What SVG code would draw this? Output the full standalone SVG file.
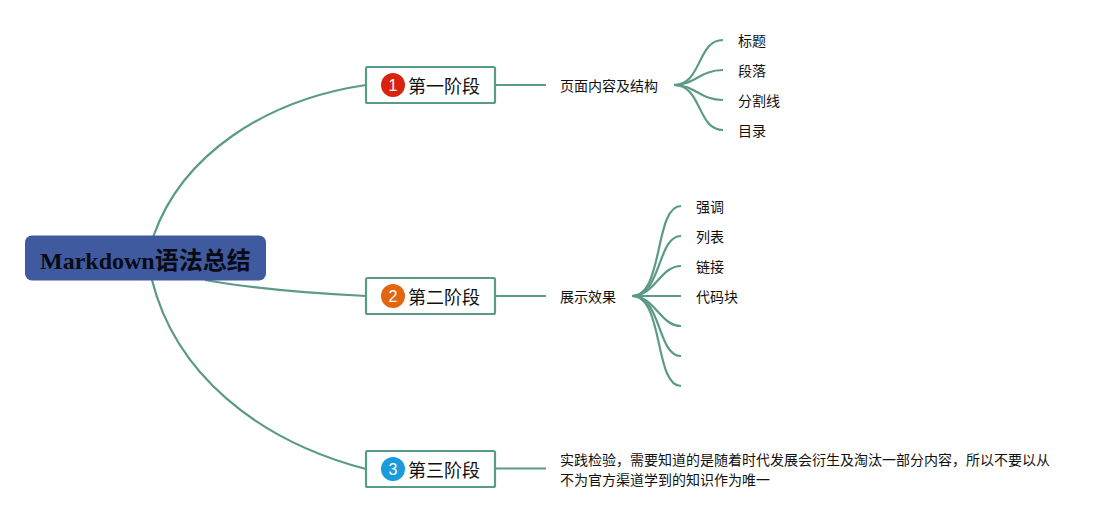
<svg xmlns="http://www.w3.org/2000/svg" width="1120" height="519" viewBox="0 0 1120 519">
<style>
.c{fill:none;stroke:#5a9a86;stroke-width:2.200}
.box{fill:#fff;stroke:#5a9a86;stroke-width:2.200}
.s{font-family:"Liberation Sans","Noto Sans CJK SC",sans-serif;font-size:18px;fill:#111}
.t{font-family:"Liberation Sans","Noto Sans CJK SC",sans-serif;font-size:14px;fill:#111}
.n{font-family:"Liberation Sans","Noto Sans CJK SC",sans-serif;font-size:16px;fill:#fff;text-anchor:middle}
.r{font-family:"Liberation Serif","Noto Sans CJK SC",serif;font-size:24px;font-weight:bold;fill:#0a0a14}
</style>
<rect width="1120" height="519" fill="#fff"/>
<g id="connectors">
<path class="c" d="M153.500 236C182 155 265 100 366 85"/>
<path class="c" d="M205 280C250 288 300 293 366 296"/>
<path class="c" d="M152 280C175 372 255 440 366 469"/>
<path class="c" d="M495 85H546"/>
<path class="c" d="M495 296H546"/>
<path class="c" d="M495 468.500H546"/>
<path class="c" d="M674 85C702 85 697 40 723 40"/>
<path class="c" d="M674 85C695 85 700 70 723 70"/>
<path class="c" d="M674 85C695 85 700 100 723 100"/>
<path class="c" d="M674 85C702 85 697 130 723 130"/>
<path class="c" d="M632 296C664 296 654 206 681 206"/>
<path class="c" d="M632 296C662 296 657 236 681 236"/>
<path class="c" d="M632 296C655 296 660 266 681 266"/>
<path class="c" d="M632 296H681"/>
<path class="c" d="M632 296C655 296 660 326 681 326"/>
<path class="c" d="M632 296C662 296 657 356 681 356"/>
<path class="c" d="M632 296C664 296 654 386 681 386"/>
</g>
<g id="root"><rect x="25" y="235.500" width="241" height="45" rx="7" fill="#3f5a9e"/><text class="r" x="40" y="269">Markdown语法总结</text></g>
<g id="stage1"><rect class="box" x="366" y="67" width="129" height="36" rx="1.500"/><circle cx="393" cy="85" r="12" fill="#d9230f"/><text class="n" x="393" y="91">1</text><text class="s" x="408" y="93">第一阶段</text></g>
<g id="stage2"><rect class="box" x="366" y="278" width="129" height="36" rx="1.500"/><circle cx="393" cy="296" r="12" fill="#e2650f"/><text class="n" x="393" y="302">2</text><text class="s" x="408" y="304">第二阶段</text></g>
<g id="stage3"><rect class="box" x="366" y="451" width="129" height="36" rx="1.500"/><circle cx="393" cy="469" r="12" fill="#1a9bdc"/><text class="n" x="393" y="475">3</text><text class="s" x="408" y="477">第三阶段</text></g>
<g id="topic1"><text class="t" x="560" y="91">页面内容及结构</text></g>
<g id="topic2"><text class="t" x="560" y="302">展示效果</text></g>
<g id="topic3"><text class="t" x="560" y="465">实践检验，需要知道的是随着时代发展会衍生及淘汰一部分内容，所以不要以从</text><text class="t" x="560" y="485">不为官方渠道学到的知识作为唯一</text></g>
<g id="leaf-title"><text class="t" x="738" y="46">标题</text></g>
<g id="leaf-para"><text class="t" x="738" y="76">段落</text></g>
<g id="leaf-hr"><text class="t" x="738" y="106">分割线</text></g>
<g id="leaf-toc"><text class="t" x="738" y="136">目录</text></g>
<g id="leaf-em"><text class="t" x="696" y="212">强调</text></g>
<g id="leaf-list"><text class="t" x="696" y="242">列表</text></g>
<g id="leaf-link"><text class="t" x="696" y="272">链接</text></g>
<g id="leaf-code"><text class="t" x="696" y="302">代码块</text></g>
</svg>
